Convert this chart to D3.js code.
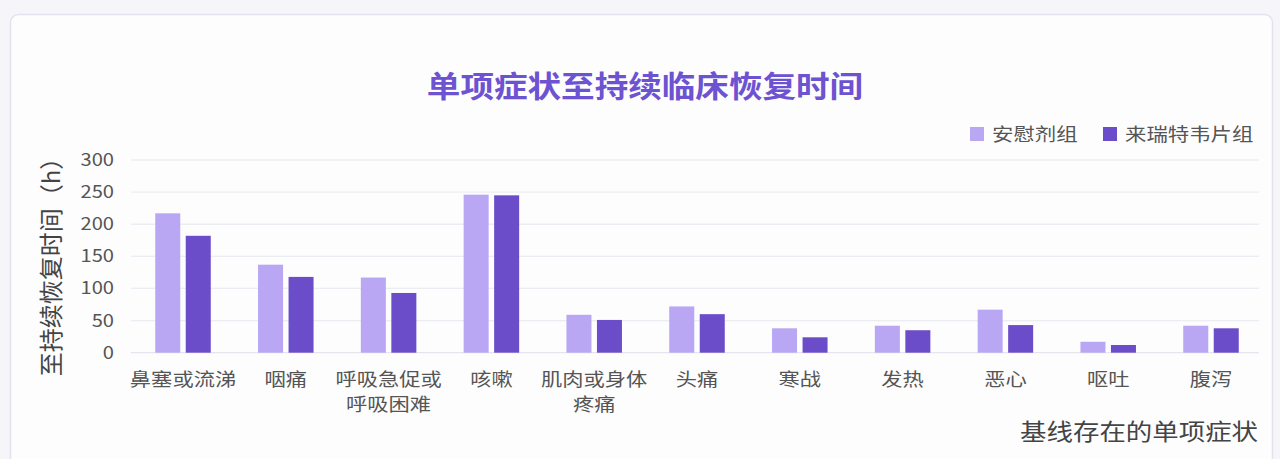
<!DOCTYPE html>
<html>
<head>
<meta charset="utf-8">
<script src="https://cdn.jsdelivr.net/npm/d3@7/dist/d3.min.js"></script>
<style>
  html, body { margin: 0; padding: 0; background: #f6f5f9; }
  svg { display: block; }
  text { font-family: "Noto Sans CJK SC", "Noto Sans", sans-serif; }
</style>
</head>
<body>
<svg id="chart" width="1280" height="459"></svg>
<script>
// Symptom categories (baseline single symptoms) and time to sustained recovery (h)
const categories = ["鼻塞或流涕", "咽痛", "呼吸急促或\n呼吸困难", "咳嗽", "肌肉或身体\n疼痛", "头痛", "寒战", "发热", "恶心", "呕吐", "腹泻"];
const placeboHours = [217, 137, 117, 246, 59, 72, 38, 42, 67, 17, 42];
const leritrelvirHours = [182, 118, 93, 245, 51, 60, 24, 35, 43, 12, 38];
const seriesNames = ["安慰剂组", "来瑞特韦片组"];
const seriesColors = ["#b9a7f4", "#6c4dc9"];
const yTicks = [0, 50, 100, 150, 200, 250, 300];
const chartTitle = "单项症状至持续临床恢复时间";
const yTitle = "至持续恢复时间（h）";
const xTitle = "基线存在的单项症状";

const svg = d3.select("#chart");
const SX = 1.15; // horizontal text stretch

// card
svg.append("rect")
  .attr("x", 10.5).attr("y", 14.5).attr("width", 1262).attr("height", 460)
  .attr("rx", 8).attr("fill", "#fdfdfe").attr("stroke", "#e4e2ef").attr("stroke-width", 1.5);

function stretchedText(g, x, y, str) {
  return g.append("text").attr("transform", `translate(${x},${y}) scale(${SX},1)`).text(str);
}

const x0 = d3.scaleBand().domain(categories).range([131.6, 1262.4]).paddingInner(0.46).paddingOuter(0.23);
const x1 = d3.scaleBand().domain(seriesNames).range([0, x0.bandwidth()]).paddingInner(0.18);
const y = d3.scaleLinear().domain([0, 300]).range([352.7, 160]);

// grid
svg.append("g").selectAll("line").data(yTicks).join("line")
  .attr("x1", 131).attr("x2", 1259)
  .attr("y1", d => y(d)).attr("y2", d => y(d))
  .attr("stroke", d => d === 0 ? "#e6e5ee" : "#ececf3").attr("stroke-width", 1.3);

// y tick labels
const yt = svg.append("g").attr("fill", "#555").attr("font-size", 17.5).attr("text-anchor", "end");
yTicks.forEach(t => stretchedText(yt, 114, y(t) + 6, String(t)));

// bars
const rows = categories.map((c, i) => ({ c, vals: [placeboHours[i], leritrelvirHours[i]] }));
const groups = svg.append("g").selectAll("g").data(rows).join("g")
  .attr("transform", d => `translate(${x0(d.c)},0)`);
groups.selectAll("rect").data(d => d.vals.map((v, k) => ({ k, v }))).join("rect")
  .attr("x", d => x1(seriesNames[d.k]))
  .attr("width", x1.bandwidth())
  .attr("y", d => y(d.v))
  .attr("height", d => y(0) - y(d.v))
  .attr("fill", d => seriesColors[d.k]);

// category labels
const xl = svg.append("g").attr("fill", "#555").attr("font-size", 18.5).attr("text-anchor", "middle");
categories.forEach(c => {
  const cx = x0(c) + x0.bandwidth() / 2;
  c.split("\n").forEach((line, li) => stretchedText(xl, cx, 386 + li * 25, line));
});

// title
svg.append("text").attr("transform", `translate(645,97) scale(${SX},1)`)
  .attr("text-anchor", "middle").attr("font-size", 29.2).attr("font-weight", "bold")
  .attr("fill", "#6d52d1").text(chartTitle);

// legend
const lg = svg.append("g");
const legendPos = [970, 1103];
seriesNames.forEach((n, i) => {
  lg.append("rect").attr("x", legendPos[i]).attr("y", 127).attr("width", 14).attr("height", 14).attr("fill", seriesColors[i]);
  stretchedText(lg, legendPos[i] + 22, 141, n).attr("font-size", 18.6).attr("fill", "#555");
});

// y axis title
svg.append("text")
  .attr("transform", "translate(60,261) rotate(-90)")
  .attr("text-anchor", "middle").attr("font-size", 24).attr("fill", "#444").text(yTitle);

// x axis title
stretchedText(svg, 1258, 440, xTitle).attr("text-anchor", "end").attr("font-size", 23).attr("fill", "#444");
</script>
</body>
</html>
